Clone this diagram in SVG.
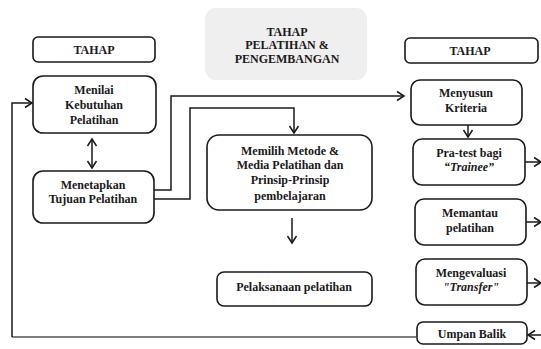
<svg xmlns="http://www.w3.org/2000/svg" width="541" height="349" viewBox="0 0 541 349" font-family="Liberation Serif, Times New Roman, serif">
<style>
.box{fill:#fff;stroke:#1a1a1a;stroke-width:1.6}
.hdr{fill:#efefef;stroke:none}
text{font-weight:bold;fill:#1a1a1a;text-anchor:middle}
.t{font-size:12px}
.h{font-size:12px}
.it{font-style:italic}
.c{fill:none;stroke:#1a1a1a;stroke-width:1.5}
.g{fill:none;stroke:#555;stroke-width:1.5}
</style>
<defs>
<marker id="ah" markerWidth="12" markerHeight="12" refX="9" refY="6" orient="auto-start-reverse" markerUnits="userSpaceOnUse">
<polyline points="2,1.5 9,6 2,10.5" fill="none" stroke="#1a1a1a" stroke-width="1.5"/>
</marker>
</defs>
<rect width="541" height="349" fill="#fff"/>

<g id="connectors">
<line class="c" x1="92" y1="139" x2="92" y2="168" marker-start="url(#ah)" marker-end="url(#ah)"/>
<polyline class="c" points="154,190 171,190 171,96 404,96" marker-end="url(#ah)"/>
<polyline class="c" points="154,199 190,199 190,108 294,108 294,133" marker-end="url(#ah)"/>
<line class="c" x1="292" y1="218" x2="292" y2="243" marker-end="url(#ah)"/>
<line class="c" x1="468" y1="125" x2="468" y2="137" marker-end="url(#ah)"/>
<line class="c" x1="525" y1="162" x2="541" y2="162" marker-end="url(#ah)"/>
<line class="c" x1="526" y1="222" x2="541" y2="222" marker-end="url(#ah)"/>
<line class="c" x1="527" y1="283" x2="541" y2="283" marker-end="url(#ah)"/>
<line class="c" x1="541" y1="335" x2="528" y2="335" marker-end="url(#ah)"/>
<polyline class="g" points="416,337 12,337"/>
<polyline class="c" points="12,337 12,103 32,103" marker-end="url(#ah)"/>
</g>

<g id="tahap-left">
<rect class="box" x="33" y="37" width="122" height="25" rx="5"/>
<text class="h" x="94" y="54" font-size="13">TAHAP</text>
</g>
<g id="tahap-mid">
<rect class="hdr" x="205" y="8" width="162" height="72" rx="11"/>
<text class="h" x="287" y="36">TAHAP</text>
<text class="h" x="287" y="49">PELATIHAN &amp;</text>
<text class="h" x="287" y="63">PENGEMBANGAN</text>
</g>
<g id="tahap-right">
<rect class="box" x="405" y="38" width="133" height="25" rx="5"/>
<text class="h" x="470" y="55" font-size="13">TAHAP</text>
</g>

<g id="menilai">
<rect class="box" x="33" y="76" width="123" height="57" rx="10"/>
<text class="t" x="94" y="94">Menilai</text>
<text class="t" x="94" y="109">Kebutuhan</text>
<text class="t" x="94" y="124">Pelatihan</text>
</g>
<g id="menetapkan">
<rect class="box" x="33" y="171" width="121" height="52" rx="10"/>
<text class="t" x="93" y="189">Menetapkan</text>
<text class="t" x="93" y="203">Tujuan Pelatihan</text>
</g>
<g id="memilih">
<rect class="box" x="207" y="135" width="165" height="75" rx="12"/>
<text class="t" x="290" y="155">Memilih Metode &amp;</text>
<text class="t" x="290" y="169">Media Pelatihan dan</text>
<text class="t" x="290" y="184">Prinsip-Prinsip</text>
<text class="t" x="290" y="200">pembelajaran</text>
</g>
<g id="pelaksanaan">
<rect class="box" x="217" y="272" width="155" height="34" rx="7"/>
<text class="t" x="294" y="291">Pelaksanaan pelatihan</text>
</g>
<g id="menyusun">
<rect class="box" x="411" y="80" width="111" height="45" rx="9"/>
<text class="t" x="466" y="97">Menyusun</text>
<text class="t" x="466" y="112">Kriteria</text>
</g>
<g id="pratest">
<rect class="box" x="413" y="139" width="112" height="46" rx="9"/>
<text class="t" x="469" y="157">Pra-test bagi</text>
<text class="t it" x="469" y="171">“Trainee”</text>
</g>
<g id="memantau">
<rect class="box" x="415" y="199" width="111" height="46" rx="9"/>
<text class="t" x="470" y="217">Memantau</text>
<text class="t" x="470" y="232">pelatihan</text>
</g>
<g id="mengevaluasi">
<rect class="box" x="416" y="259" width="111" height="46" rx="9"/>
<text class="t" x="471" y="277">Mengevaluasi</text>
<text class="t it" x="471" y="291">"Transfer"</text>
</g>
<g id="umpan">
<rect class="box" x="417" y="322" width="110" height="22" rx="6"/>
<text class="t" x="472" y="338">Umpan Balik</text>
</g>
</svg>
